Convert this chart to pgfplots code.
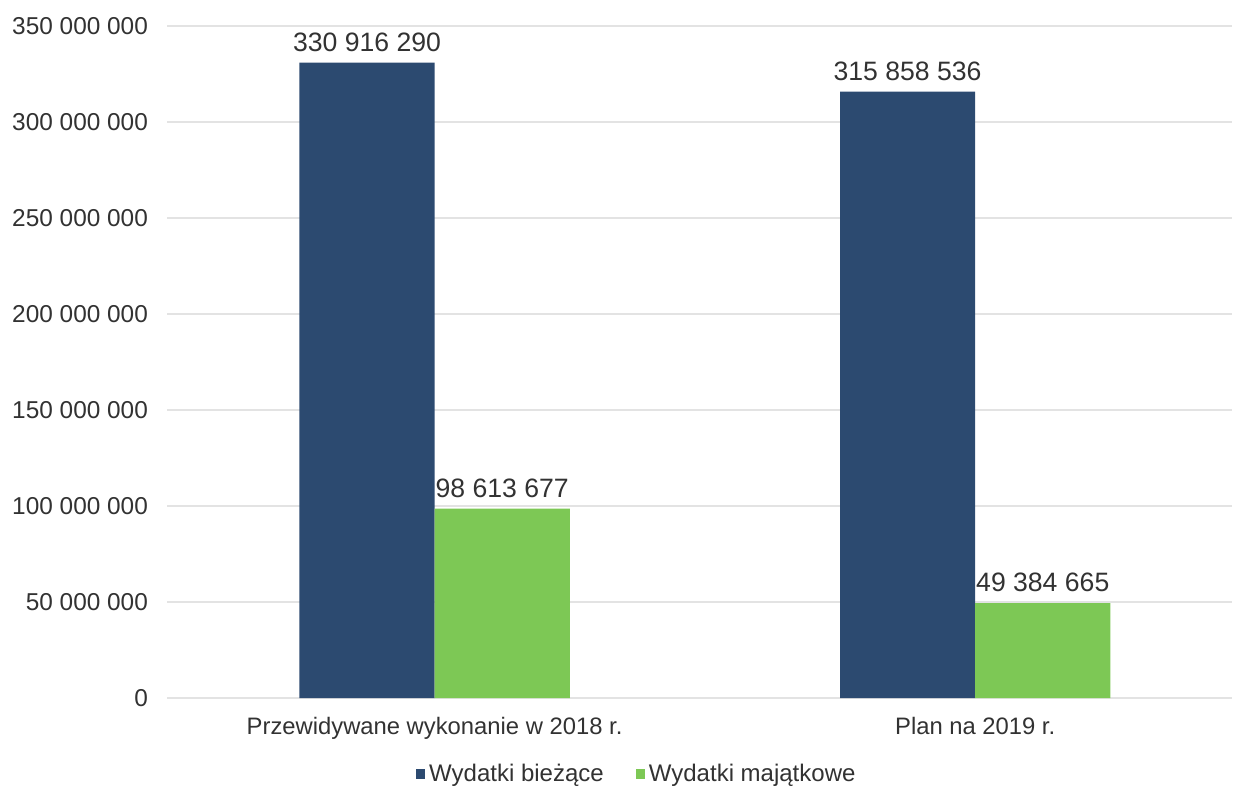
\documentclass[border=0pt]{standalone}
\usepackage{fontspec}
\setmainfont{Liberation Sans}
\usepackage{pgfplots}
\pgfplotsset{compat=1.18}
\definecolor{bieblue}{RGB}{44,74,112}
\definecolor{majgreen}{RGB}{125,200,85}
\definecolor{txt}{RGB}{50,50,50}
\begin{document}
\begin{tikzpicture}
% page frame: 1px = 0.5pt
\path (-83.5pt,-44.5pt) rectangle (536pt,349pt);
\begin{axis}[
    at={(0pt,0pt)}, anchor=south west,
    scale only axis,
    width=532.5pt, height=336pt,
    ybar=0pt,
    bar width=0.25,
    xmin=-0.495, xmax=1.475,
    ymin=0, ymax=350000000,
    scaled y ticks=false,
    xtick={0,1},
    xticklabels={Przewidywane wykonanie w 2018 r., Plan na 2019 r.},
    ytick={0,50000000,100000000,150000000,200000000,250000000,300000000,350000000},
    yticklabels={0,50 000 000,100 000 000,150 000 000,200 000 000,250 000 000,300 000 000,350 000 000},
    axis line style={draw=none},
    major tick length=0pt,
    ymajorgrids,
    grid style={gray!22, line width=0.6pt},
    yticklabel style={font=\fontsize{12.2}{14}\selectfont, text=txt, xshift=-6pt},
    xticklabel style={font=\fontsize{11.9}{14}\selectfont, text=txt, yshift=-6pt},
    nodes near coords,
    point meta=explicit symbolic,
    every node near coord/.append style={font=\fontsize{13.3}{15}\selectfont, text=txt, yshift=2pt},
    legend columns=2,
    legend style={at={(0.442,-0.113)}, anchor=center, draw=none, inner sep=0pt,
        font=\fontsize{12}{13}\selectfont, text=txt,
        /tikz/every even column/.append style={column sep=14pt}},
    legend image code/.code={\fill[#1] (0pt,-2.3pt) rectangle (4.6pt,2.3pt);},
]
\addplot[fill=bieblue, draw=none] coordinates {
    (0,330916290) [330 916 290]
    (1,315858536) [315 858 536]
};
\addplot[fill=majgreen, draw=none] coordinates {
    (0,98613677) [98 613 677]
    (1,49384665) [49 384 665]
};
\legend{Wydatki bieżące, Wydatki majątkowe}
\end{axis}
\end{tikzpicture}
\end{document}
